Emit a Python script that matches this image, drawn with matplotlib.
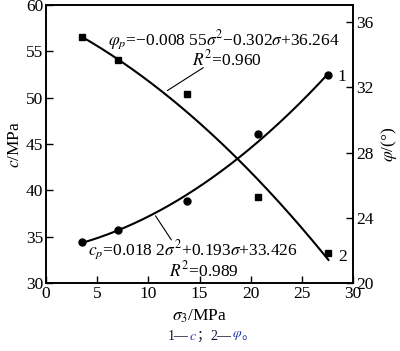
import numpy as np
import matplotlib.pyplot as plt

plt.rcParams['font.family'] = ['Liberation Serif', 'Noto Sans CJK SC']
plt.rcParams['mathtext.fontset'] = 'stix'
plt.rcParams['font.size'] = 12.5

# confining pressure (MPa)
sigma3 = [3.5, 7.0, 13.8, 20.7, 27.6]
# cohesion c (MPa), curve 1
c_vals = [34.4, 35.7, 38.85, 46.1, 52.4]
# friction angle phi (deg), curve 2
phi_vals = [35.1, 33.7, 31.6, 25.3, 21.85]

# fitted coefficients printed on the chart
c_fit = [0.0182, 0.193, 33.426]
phi_fit = [-0.00855, -0.302, 36.264]

fig = plt.figure(figsize=(4.0, 3.51), dpi=100)
ax = fig.add_axes([0.115, 0.1937, 0.7675, 0.7921])
ax2 = ax.twinx()

s = np.linspace(sigma3[0], sigma3[-1], 200)
ax.plot(s, np.polyval(c_fit, s), color='black', lw=1.5)
ax.plot(sigma3, c_vals, 'o', color='black', ms=5)
ax2.plot(s, np.polyval(phi_fit, s), color='black', lw=1.5)
ax2.plot(sigma3, phi_vals, 's', color='black', ms=5)

ax.set_xlim(0, 30)
ax.set_ylim(30, 60)
ax2.set_ylim(20, 37.05)
ax.set_xticks(np.arange(0, 31, 5))
ax.set_yticks(np.arange(30, 61, 5))
ax2.set_yticks([20, 24, 28, 32, 36])

ax.tick_params(direction='in', length=5, width=1, top=False, right=False, pad=2)
ax2.tick_params(direction='in', length=5, width=1, pad=2)
for a in (ax, ax2):
    for sp in a.spines.values():
        sp.set_linewidth(1.2)

ax.set_xlabel(r'$\sigma_3$/MPa', labelpad=4)
ax.set_ylabel(r'$c$/MPa', labelpad=2)
ax2.set_ylabel(r'$\varphi$/(°)', labelpad=4)

# equations and leader lines
ax.text(6.1, 56.25, r'$\varphi_p$=−0.008 55$\sigma^2$−0.302$\sigma$+36.264',
        va='center', ha='left', fontsize=12.5)
ax.text(14.3, 54.15, r'$R^2$=0.960', va='center', ha='left', fontsize=12.5)
ax.annotate('', xy=(11.63, 50.6), xytext=(15.6, 53.4),
            arrowprops=dict(arrowstyle='-', color='black', lw=0.8))

ax.text(4.1, 33.5, r'$c_p$=0.018 2$\sigma^2$+0.193$\sigma$+33.426',
        va='center', ha='left', fontsize=12.5)
ax.text(12.0, 31.4, r'$R^2$=0.989', va='center', ha='left', fontsize=12.5)
ax.annotate('', xy=(10.55, 37.5), xytext=(12.4, 34.4),
            arrowprops=dict(arrowstyle='-', color='black', lw=0.8))

ax.text(28.5, 52.2, '1', va='center', ha='left')
ax.text(28.6, 32.8, '2', va='center', ha='left')

# caption, pieces placed one after another
blue = '#2233aa'
dark = '#111133'
pieces = [('1—', dark), (r'$c$', blue), ('；', dark), ('2—', dark),
          (r'$\varphi$', blue), ('。', blue)]
renderer = fig.canvas.get_renderer()
x = 168
for txt, col in pieces:
    t = fig.text(x / 400, 1 - 336 / 351, txt, ha='left', va='center',
                 fontsize=10, color=col)
    x += t.get_window_extent(renderer).width

fig.savefig('out.png', dpi=100)
